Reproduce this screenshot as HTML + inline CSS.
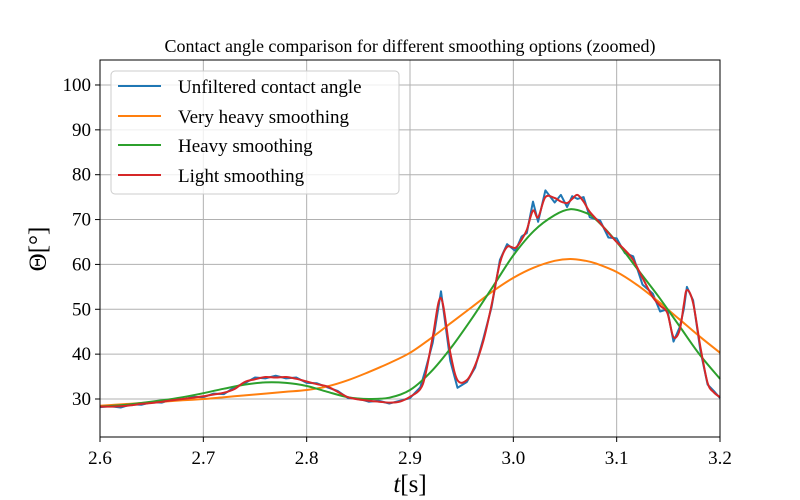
<!DOCTYPE html>
<html><head><meta charset="utf-8"><style>
body{margin:0;background:#fff}
svg{display:block}
text{font-family:"Liberation Serif",serif;fill:#000}
</style></head><body>
<svg id="chart" width="800" height="500">
<g id="grid"></g>
<g id="series"></g>
<rect x="100" y="60" width="620" height="377" fill="none" stroke="#000" stroke-width="1"/>
<g id="ticks"></g>
<text x="410" y="52" text-anchor="middle" font-size="18">Contact angle comparison for different smoothing options (zoomed)</text>
<text x="410" y="492" text-anchor="middle" font-size="25"><tspan font-style="italic">t</tspan>[s]</text>
<text transform="translate(46,249) rotate(-90)" text-anchor="middle" font-size="25">Θ[°]</text>
<g>
<rect x="111" y="71" width="288" height="123" rx="4" fill="#fff" fill-opacity="0.8" stroke="#ccc"/>
<g><line x1="118" y1="86" x2="161" y2="86" stroke="#1f77b4" stroke-width="2"/><text x="178" y="93" font-size="19">Unfiltered contact angle</text></g>
<g><line x1="118" y1="116" x2="161" y2="116" stroke="#ff7f0e" stroke-width="2"/><text x="178" y="123" font-size="19">Very heavy smoothing</text></g>
<g><line x1="118" y1="145" x2="161" y2="145" stroke="#2ca02c" stroke-width="2"/><text x="178" y="152" font-size="19">Heavy smoothing</text></g>
<g><line x1="118" y1="175" x2="161" y2="175" stroke="#d62728" stroke-width="2"/><text x="178" y="182" font-size="19">Light smoothing</text></g>
</g>
</svg>
<script>
const xTicks=[2.6,2.7,2.8,2.9,3.0,3.1,3.2];
const xTickLabels=["2.6","2.7","2.8","2.9","3.0","3.1","3.2"];
const yTicks=[30,40,50,60,70,80,90,100];
const yTickLabels=["30","40","50","60","70","80","90","100"];
const lightT=[2.60,2.61,2.62,2.63,2.64,2.65,2.66,2.67,2.68,2.69,2.70,2.71,2.72,2.73,2.74,2.75,2.76,2.77,2.78,2.79,2.80,2.81,2.82,2.83,2.84,2.85,2.86,2.87,2.88,2.89,2.90,2.91,2.915,2.922,2.930,2.939,2.946,2.955,2.963,2.971,2.979,2.987,2.994,3.002,3.008,3.013,3.019,3.024,3.031,3.040,3.046,3.052,3.057,3.062,3.068,3.074,3.084,3.092,3.100,3.108,3.116,3.125,3.135,3.142,3.149,3.155,3.161,3.165,3.168,3.174,3.181,3.188,3.194,3.200];
const lightV=[28.3,28.3,28.4,28.6,28.9,29.1,29.4,29.7,30.0,30.3,30.6,31.0,31.4,32.2,33.8,34.4,34.9,34.8,34.9,34.5,33.9,33.3,32.8,31.6,30.4,29.9,29.6,29.4,29.2,29.4,30.5,32.2,35.5,43.8,52.5,40.3,34.2,34.2,37.5,43.0,51.0,60.3,63.9,63.7,65.5,67.7,72.0,70.5,75.0,74.8,74.0,73.7,74.6,75.5,74.0,71.7,69.2,67.0,65.0,63.2,61.0,57.0,52.7,50.8,49.2,43.8,45.4,51.0,54.3,51.4,41.6,33.6,31.5,30.4];
const rawV=[28.2,28.4,28.1,28.8,28.7,29.3,29.2,29.9,29.8,30.5,30.4,31.2,31.1,32.6,33.5,34.8,34.6,35.2,34.6,34.8,33.6,33.5,32.6,31.8,30.2,30.1,29.4,29.6,29.0,29.6,30.2,32.6,36.5,42.5,54.0,38.5,32.5,33.8,37.0,43.5,50.5,61.0,64.5,63.0,66.2,67.0,74.0,69.5,76.5,73.8,75.5,72.8,75.2,74.6,75.0,70.5,69.8,66.0,65.8,62.5,61.8,55.5,53.5,49.5,50.0,42.8,46.0,50.0,55.0,52.0,40.8,33.2,31.8,30.2];
const smoothT=[2.60,2.62,2.64,2.66,2.68,2.70,2.72,2.74,2.76,2.78,2.80,2.82,2.84,2.86,2.88,2.90,2.92,2.94,2.96,2.98,3.00,3.02,3.04,3.055,3.07,3.08,3.10,3.12,3.14,3.16,3.18,3.20];
const heavyV=[28.3,28.6,29.1,29.7,30.4,31.3,32.3,33.2,33.7,33.6,32.9,31.6,30.4,30.0,30.3,32.0,36.0,41.5,48.0,55.0,62.0,67.5,71.0,72.3,71.5,70.0,65.0,59.0,53.0,46.5,40.0,34.5];
const vheavyV=[28.5,28.8,29.1,29.4,29.7,30.0,30.4,30.8,31.2,31.6,32.0,32.8,34.2,36.0,38.0,40.3,43.5,47.0,50.5,54.0,57.0,59.3,60.8,61.2,60.8,60.2,58.3,55.4,51.8,47.9,44.0,40.3];

const X=t=>100+(t-2.6)/0.6*620;
const Y=v=>399-(v-30)*4.486;
const ns="http://www.w3.org/2000/svg";
const grid=document.getElementById('grid'),ticks=document.getElementById('ticks'),ser=document.getElementById('series');
function mk(tag,attrs,parent){const e=document.createElementNS(ns,tag);for(const k in attrs)e.setAttribute(k,attrs[k]);parent.appendChild(e);return e;}
xTicks.forEach((t,i)=>{
  const g=mk('line',{x1:X(t),x2:X(t),y1:60,y2:437,stroke:'#b0b0b0','stroke-width':1},grid);
  
  
  mk('line',{x1:X(t),x2:X(t),y1:437,y2:442,stroke:'#000'},ticks);
  const tx=mk('text',{x:X(t),y:464,'text-anchor':'middle','font-size':19},ticks);
  tx.textContent=xTickLabels[i];
  
  
});
yTicks.forEach((v,i)=>{
  const g=mk('line',{x1:100,x2:720,y1:Y(v),y2:Y(v),stroke:'#b0b0b0','stroke-width':1},grid);
  
  
  mk('line',{x1:95,x2:100,y1:Y(v),y2:Y(v),stroke:'#000'},ticks);
  const tx=mk('text',{x:91,y:Y(v)+6,'text-anchor':'end','font-size':19},ticks);
  tx.textContent=yTickLabels[i];
  
  
});
function pathD(ts,vs,smooth){
  const P=ts.map((t,i)=>[X(t),Y(vs[i])]);
  let d='M'+P[0][0].toFixed(1)+','+P[0][1].toFixed(1);
  for(let i=0;i<P.length-1;i++){
    if(!smooth){d+=' L'+P[i+1][0].toFixed(1)+','+P[i+1][1].toFixed(1);continue;}
    const p0=P[Math.max(0,i-1)],p1=P[i],p2=P[i+1],p3=P[Math.min(P.length-1,i+2)];
    const c1=[p1[0]+(p2[0]-p0[0])/6,p1[1]+(p2[1]-p0[1])/6];
    const c2=[p2[0]-(p3[0]-p1[0])/6,p2[1]-(p3[1]-p1[1])/6];
    d+=' C'+c1.map(n=>n.toFixed(1)).join(',')+' '+c2.map(n=>n.toFixed(1)).join(',')+' '+p2.map(n=>n.toFixed(1)).join(',');
  }
  return d;
}
function line(ts,vs,color,name,smooth){
  const p=mk('path',{d:pathD(ts,vs,smooth),fill:'none',stroke:color,'stroke-width':2,'stroke-linejoin':'round'},ser);
  
  
}
line(lightT,rawV,'#1f77b4','unfiltered-line',false);
line(smoothT,vheavyV,'#ff7f0e','very-heavy-smoothing-line',true);
line(smoothT,heavyV,'#2ca02c','heavy-smoothing-line',true);
line(lightT,lightV,'#d62728','light-smoothing-line',true);
</script>
</body></html>
